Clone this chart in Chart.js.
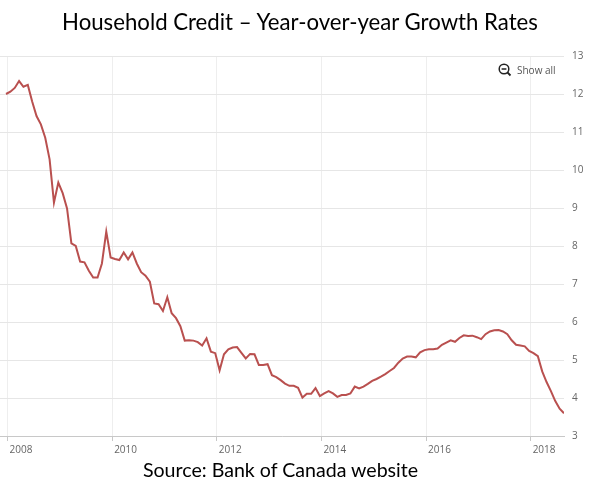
<!DOCTYPE html>
<html>
<head>
<meta charset="utf-8">
<title>Household Credit</title>
<script src="https://cdn.jsdelivr.net/npm/chart.js@4.4.0/dist/chart.umd.min.js"></script>
<style>
  html, body { margin: 0; padding: 0; background: #fff; }
  #wrap { position: relative; width: 600px; height: 499px; overflow: hidden; }
  #chartBox { position: absolute; left: 0; top: 0; width: 600px; height: 499px; }
  .title { position: absolute; top: 8px; left: 0; width: 600px; text-align: center;
           font: 22.2px Lato, sans-serif; color: #000; white-space: nowrap; }
  .source { position: absolute; top: 458px; left: 0; width: 561px; text-align: center;
            font: 19.6px Lato, sans-serif; color: #000; white-space: nowrap; }
  .showall { position: absolute; left: 498px; top: 62px; height: 16px; font: 10px "Open Sans", sans-serif;
             color: #555; display: flex; align-items: center; }
  .showall svg { margin-right: 5px; }
</style>
</head>
<body>
<div id="wrap">
  <div id="chartBox"><canvas id="creditChart"></canvas></div>
  <div class="title">Household Credit – Year-over-year Growth Rates</div>
  <div class="showall">
    <svg width="14" height="14" viewBox="0 0 14 14">
      <circle cx="6" cy="6" r="4.8" fill="none" stroke="#222" stroke-width="1.5"/>
      <line x1="3.6" y1="6" x2="8.4" y2="6" stroke="#222" stroke-width="1.5"/>
      <line x1="9.5" y1="9.5" x2="12.5" y2="12.5" stroke="#222" stroke-width="1.8"/>
    </svg>
    <span>Show all</span>
  </div>
  <div class="source">Source: Bank of Canada website</div>
</div>

<script>
// monthly series, first value is Dec 2007
const startYear = 2007;
const startMonth = 12;

const growth = [
    12.00,                                                                          // 2007 Dec
    12.06, 12.16, 12.34, 12.19, 12.24, 11.80, 11.42, 11.20, 10.85, 10.28, 9.14, 9.67, // 2008
    9.39, 8.99, 8.07, 8.00, 7.59, 7.57, 7.35, 7.17, 7.17, 7.54, 8.38, 7.70,           // 2009
    7.66, 7.63, 7.83, 7.65, 7.83, 7.54, 7.31, 7.22, 7.06, 6.49, 6.47, 6.29,           // 2010
    6.65, 6.23, 6.10, 5.89, 5.51, 5.52, 5.51, 5.47, 5.38, 5.57, 5.22, 5.18,           // 2011
    4.73, 5.15, 5.28, 5.33, 5.34, 5.19, 5.04, 5.16, 5.15, 4.87, 4.87, 4.89,           // 2012
    4.60, 4.55, 4.47, 4.38, 4.32, 4.32, 4.27, 4.01, 4.11, 4.11, 4.26, 4.05,           // 2013
    4.12, 4.18, 4.12, 4.03, 4.08, 4.08, 4.12, 4.30, 4.25, 4.30, 4.37, 4.45,           // 2014
    4.50, 4.56, 4.63, 4.71, 4.79, 4.93, 5.04, 5.09, 5.09, 5.07, 5.20, 5.26,           // 2015
    5.28, 5.28, 5.30, 5.40, 5.46, 5.52, 5.48, 5.58, 5.65, 5.63, 5.64, 5.60,           // 2016
    5.55, 5.68, 5.75, 5.78, 5.79, 5.75, 5.68, 5.52, 5.40, 5.38, 5.36, 5.24,           // 2017
    5.18, 5.10, 4.70, 4.42, 4.18, 3.92, 3.72, 3.60                                    // 2018
];

const yearTicks = [2008, 2010, 2012, 2014, 2016, 2018];
const rateMin = 3;
const rateMax = 13;

const lineColor = '#b9504f';
const axisGray = '#666666';

Chart.defaults.font.family = '"Open Sans", sans-serif';

function LoadCreditChart() {
    // points sit a little past the middle of each month
    const points = growth.map(function (v, i) {
        const m = startMonth - 1 + i;
        return { x: startYear + (m + 0.65) / 12, y: v };
    });

    const ctx = document.getElementById('creditChart').getContext('2d');
    new Chart(ctx, {
        type: 'line',
        data: {
            datasets: [{
                label: 'Household credit',
                data: points,
                borderColor: lineColor,
                borderWidth: 2,
                pointRadius: 0,
                fill: false,
                tension: 0
            }]
        },
        options: {
            responsive: true,
            maintainAspectRatio: false,
            animation: false,
            layout: { padding: { top: 56, bottom: 43, left: 0, right: 0 } },
            plugins: {
                legend: { display: false },
                tooltip: { enabled: false }
            },
            scales: {
                x: {
                    type: 'linear',
                    min: 2007.856,
                    max: points[points.length - 1].x,
                    afterBuildTicks: function (scale) {
                        scale.ticks = yearTicks.map(function (y) { return { value: y }; });
                    },
                    afterFit: function (scale) { scale.height = 20; },
                    ticks: {
                        align: 'start',
                        labelOffset: 2,
                        padding: 3,
                        maxRotation: 0,
                        autoSkip: false,
                        color: axisGray,
                        font: { size: 10 },
                        callback: function (v) { return String(v); }
                    },
                    grid: { color: '#eeeeee', tickLength: 5, tickColor: '#c8c8c8' },
                    border: { color: '#c8c8c8' }
                },
                y: {
                    position: 'right',
                    min: rateMin,
                    max: rateMax,
                    afterFit: function (scale) { scale.width = 36; },
                    ticks: {
                        stepSize: 1,
                        padding: 8,
                        color: axisGray,
                        font: { size: 10 }
                    },
                    grid: { color: '#e6e6e6', drawTicks: false },
                    border: { display: false }
                }
            }
        }
    });
}

LoadCreditChart();
</script>
</body>
</html>
